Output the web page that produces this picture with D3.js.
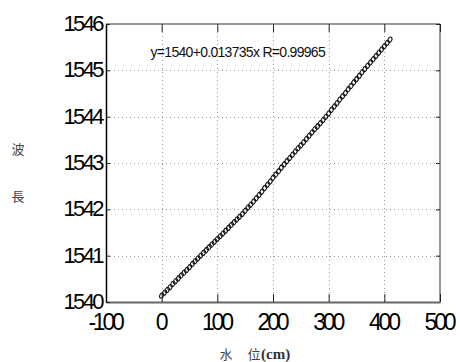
<!DOCTYPE html>
<html><head><meta charset="utf-8">
<script src="https://cdn.jsdelivr.net/npm/d3@7"></script>
<style>
html,body{margin:0;padding:0;background:#fff;}
svg{display:block;}
</style></head>
<body>
<svg id="c" width="460" height="362"></svg>
<script>
// Data
const waterLevel = [0,5,10,15,20,25,30,35,40,45,50,55,60,65,70,75,80,85,90,95,100,105,110,115,120,125,130,135,140,145,150,155,160,165,170,175,180,185,190,195,200,205,210,215,220,225,230,235,240,245,250,255,260,265,270,275,280,285,290,295,300,305,310,315,320,325,330,335,340,345,350,355,360,365,370,375,380,385,390,395,400,405,410];
const wavelength = [1540.14,1540.20,1540.26,1540.32,1540.39,1540.45,1540.51,1540.57,1540.63,1540.69,1540.75,1540.82,1540.88,1540.94,1541.00,1541.06,1541.12,1541.18,1541.24,1541.30,1541.36,1541.42,1541.48,1541.54,1541.60,1541.66,1541.72,1541.78,1541.84,1541.90,1541.97,1542.04,1542.10,1542.17,1542.24,1542.31,1542.38,1542.46,1542.53,1542.60,1542.68,1542.75,1542.82,1542.90,1542.97,1543.04,1543.11,1543.18,1543.25,1543.32,1543.38,1543.45,1543.52,1543.59,1543.66,1543.73,1543.79,1543.86,1543.93,1544.00,1544.07,1544.15,1544.22,1544.29,1544.37,1544.44,1544.51,1544.59,1544.66,1544.74,1544.81,1544.88,1544.96,1545.03,1545.10,1545.17,1545.24,1545.31,1545.38,1545.45,1545.52,1545.59,1545.66];
const xTicks = [-100,0,100,200,300,400,500];
const yTicks = [1540,1541,1542,1543,1544,1545,1546];
const xDomain = [-100,500];
const yDomain = [1540,1546];
const fitText = "y=1540+0.013735x  R=0.99965";
const yLabelChars = ["波","長"];
const xLabelChars = ["水","位"];
const xLabelUnit = "(cm)";

const svg = d3.select("#c");
const L = 106, R = 440, T = 24, B = 302;
const x = d3.scaleLinear().domain(xDomain).range([L, R]);
const y = d3.scaleLinear().domain(yDomain).range([B, T]);

// grid
const grid = svg.append("g").attr("stroke","#9a9a9a").attr("stroke-width",1).attr("stroke-dasharray","1,3");
grid.selectAll("line.v").data(xTicks.slice(1,-1)).enter().append("line")
  .attr("x1",d=>Math.round(x(d))+0.5).attr("x2",d=>Math.round(x(d))+0.5).attr("y1",T).attr("y2",B);
grid.selectAll("line.h").data(yTicks.slice(1,-1)).enter().append("line")
  .attr("y1",d=>Math.round(y(d))+0.5).attr("y2",d=>Math.round(y(d))+0.5).attr("x1",L).attr("x2",R);

// frame: top and right gray
svg.append("line").attr("x1",L).attr("x2",R).attr("y1",T).attr("y2",T).attr("stroke","#777").attr("stroke-width",1.5);
svg.append("line").attr("x1",R).attr("x2",R).attr("y1",T).attr("y2",B).attr("stroke","#777").attr("stroke-width",1.5);

// inward ticks on top and right via axes
const topAx = svg.append("g").attr("transform",`translate(0,${T})`)
  .call(d3.axisTop(x).tickValues(xTicks).tickSize(-8).tickFormat(""));
topAx.select(".domain").remove();
topAx.selectAll("line").attr("stroke","#222");
const rightAx = svg.append("g").attr("transform",`translate(${R},0)`)
  .call(d3.axisRight(y).tickValues(yTicks).tickSize(-4).tickFormat(""));
rightAx.select(".domain").remove();
rightAx.selectAll("line").attr("stroke","#222");

// bottom axis
const fontAxis = "'Liberation Sans', Arial, sans-serif";
const botAx = svg.append("g").attr("transform",`translate(0,${B})`)
  .call(d3.axisBottom(x).tickValues(xTicks).tickSize(-8).tickSizeOuter(0).tickFormat(d=>String(d)));
botAx.select(".domain").attr("stroke","#666").attr("stroke-width",2);
botAx.selectAll(".tick line").attr("stroke","#222");
botAx.selectAll("text").attr("font-family",fontAxis).attr("font-size",23).attr("fill","#000")
  .attr("letter-spacing","-3.2px").attr("y",28).attr("dy",null).attr("dx","-1.5");

// left axis
const leftAx = svg.append("g").attr("transform",`translate(${L},0)`)
  .call(d3.axisLeft(y).tickValues(yTicks).tickSize(-4).tickSizeOuter(0).tickFormat(d=>String(d)));
leftAx.select(".domain").attr("stroke","#000").attr("stroke-width",1.5);
leftAx.selectAll(".tick line").attr("stroke","#222");
leftAx.selectAll("text").attr("font-family",fontAxis).attr("font-size",22).attr("fill","#000")
  .attr("letter-spacing","-2.6px").attr("x",-4).attr("dy","0.3em");

// data markers
const pts = waterLevel.map((v,i)=>[v, wavelength[i]]);
svg.append("g").selectAll("ellipse").data(pts).enter().append("ellipse")
  .attr("cx",d=>x(d[0])).attr("cy",d=>y(d[1])).attr("rx",1.9).attr("ry",2.8)
  .attr("fill","none").attr("stroke","#111").attr("stroke-width",1.05)
  .attr("transform",d=>`rotate(25,${x(d[0])},${y(d[1])})`);

// fit annotation
svg.append("text").attr("x",x(-20)).attr("y",57).attr("font-family",fontAxis).attr("font-size",14)
  .attr("letter-spacing","-0.7px").attr("fill","#111").text(fitText);

// axis labels
const cjk = "'Noto Sans CJK TC','Noto Sans CJK SC',sans-serif";
svg.selectAll("text.yl").data(yLabelChars).enter().append("text")
  .attr("x",18).attr("y",(d,i)=>154 + i*47).attr("text-anchor","middle")
  .attr("font-family",cjk).attr("font-size",13).attr("fill","#444").text(d=>d);
svg.selectAll("text.xl").data(xLabelChars).enter().append("text")
  .attr("x",(d,i)=>226 + i*28).attr("y",359).attr("text-anchor","middle")
  .attr("font-family",cjk).attr("font-size",13).attr("fill","#444").text(d=>d);
svg.append("text").attr("x",261).attr("y",359).attr("font-family","'Liberation Serif',serif")
  .attr("font-weight","bold").attr("font-size",15).attr("fill","#333").text(xLabelUnit);
</script>
</body></html>
